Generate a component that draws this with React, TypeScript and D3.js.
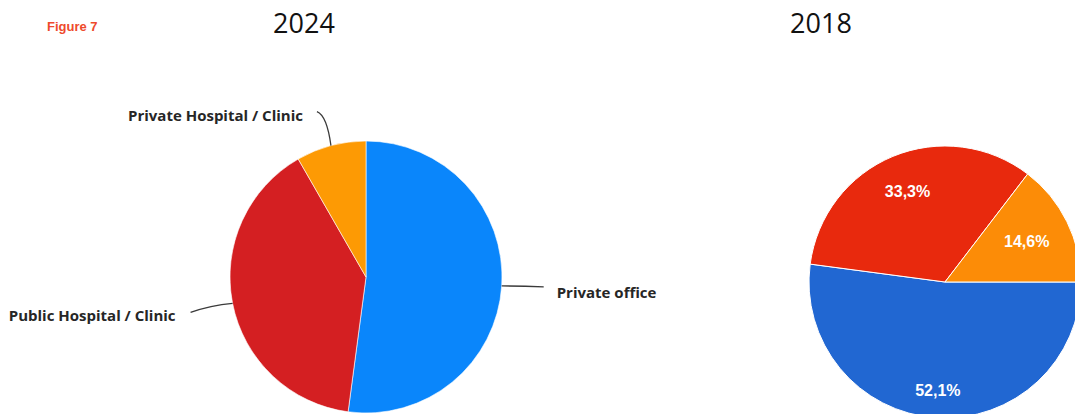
import React from "react";
import * as d3 from "d3";

const categories = ["Private office", "Public Hospital / Clinic", "Private Hospital / Clinic"];
const values2024 = [52.1, 39.6, 8.3];
const values2018 = [52.1, 33.3, 14.6];
const labels2018 = ["52,1%", "33,3%", "14,6%"];
const colors2024 = ["#0a86fb", "#d41f22", "#fd9a04"];
const colors2018 = ["#2167d2", "#e8290d", "#fc8c07"];
const titles = ["2024", "2018"];

const W = 1075;
const H = 414;
const R = 136;

export default function App() {
  const pie2024 = d3.pie<number>().sort(null).startAngle(0).endAngle(2 * Math.PI)(values2024);
  const pie2018 = d3.pie<number>().sort(null).startAngle(Math.PI / 2).endAngle(Math.PI / 2 + 2 * Math.PI)(values2018);
  const arc = d3.arc<d3.PieArcDatum<number>>().innerRadius(0).outerRadius(R);
  const c1 = { x: 366, y: 277 };
  const c2 = { x: 945, y: 282 };

  const edge = (d: d3.PieArcDatum<number>) => {
    const a = (d.startAngle + d.endAngle) / 2;
    return [R * Math.sin(a), -R * Math.cos(a)];
  };

  // leader line configs per category (offsets relative to edge point)
  const leaders = [
    { dx: 42, dy: 1, ctrl: [20, 0], tx: 55, ty: 12, anchor: "start" },
    { dx: -42, dy: 9, ctrl: [-22, 2], tx: -57, ty: 18, anchor: "end" },
    { dx: -14, dy: -34, ctrl: [-4, -30], tx: -28, ty: -25, anchor: "end" },
  ];

  const labelRadius = [0.8, 0.72, 0.67];

  return (
    <svg width={W} height={H} style={{ position: "absolute", left: 0, top: 0, background: "#fff" }}>
      <text x={47} y={31} fill="#ee4a2c" fontFamily="Liberation Sans, Arial, sans-serif" fontWeight="bold" fontSize={13}>
        Figure 7
      </text>
      <text x={304} y={33} textAnchor="middle" fill="#111" fontFamily="Open Sans, sans-serif" fontSize={27}>
        {titles[0]}
      </text>
      <text x={821} y={33} textAnchor="middle" fill="#111" fontFamily="Open Sans, sans-serif" fontSize={27}>
        {titles[1]}
      </text>

      <g transform={`translate(${c1.x},${c1.y})`}>
        {pie2024.map((d, i) => (
          <path key={i} d={arc(d) || ""} fill={colors2024[i]} stroke="#ffffff" strokeWidth={0.6} />
        ))}
        {pie2024.map((d, i) => {
          const [ex, ey] = edge(d);
          const L = leaders[i];
          const p = d3.path();
          p.moveTo(ex, ey);
          p.quadraticCurveTo(ex + L.ctrl[0], ey + L.ctrl[1], ex + L.dx, ey + L.dy);
          return (
            <g key={"l" + i}>
              <path d={p.toString()} fill="none" stroke="#3a3a3a" strokeWidth={1.3} />
              <text
                x={ex + L.tx}
                y={ey + L.ty}
                textAnchor={L.anchor as any}
                fill="#262626"
                fontFamily="Open Sans, sans-serif"
                fontWeight="bold"
                fontSize={15}
              >
                {categories[i]}
              </text>
            </g>
          );
        })}
      </g>

      <g transform={`translate(${c2.x},${c2.y})`}>
        {pie2018.map((d, i) => (
          <path key={i} d={arc(d) || ""} fill={colors2018[i]} stroke="#ffffff" strokeWidth={1} />
        ))}
        {pie2018.map((d, i) => {
          const la = d3.arc<d3.PieArcDatum<number>>()
            .innerRadius(R * labelRadius[i])
            .outerRadius(R * labelRadius[i]);
          const [x, y] = la.centroid(d);
          return (
            <text
              key={"t" + i}
              x={x}
              y={y}
              dy="0.35em"
              textAnchor="middle"
              fill="#ffffff"
              fontFamily="Liberation Sans, Arial, sans-serif"
              fontWeight="bold"
              fontSize={16}
            >
              {labels2018[i]}
            </text>
          );
        })}
      </g>
    </svg>
  );
}
